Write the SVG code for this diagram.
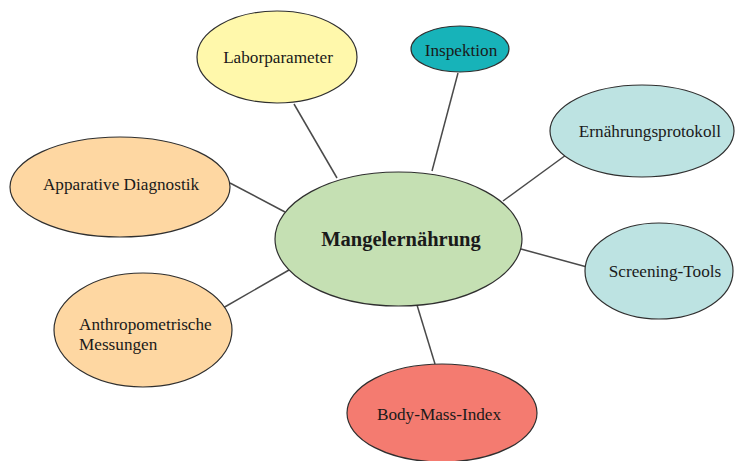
<svg xmlns="http://www.w3.org/2000/svg" width="736" height="461" viewBox="0 0 736 461">
<style>
.n{stroke:#2f2f2f;stroke-width:1.2}
.t{font-family:"Liberation Serif","Times New Roman",serif;font-size:17.2px;fill:#1a1a1a;text-anchor:middle}
.c line{stroke:#4a4a4a;stroke-width:1.5}
</style>
<rect width="736" height="461" fill="#ffffff"/>
<g class="c" id="connectors">
<line x1="294" y1="104" x2="337" y2="178"/>
<line x1="458" y1="73" x2="432" y2="171"/>
<line x1="566" y1="155" x2="503" y2="201"/>
<line x1="521" y1="249" x2="587" y2="267"/>
<line x1="230" y1="183" x2="285" y2="212"/>
<line x1="223" y1="308" x2="289" y2="270"/>
<line x1="417" y1="305" x2="435" y2="364"/>
</g>
<g id="n-laborparameter"><ellipse class="n" cx="277" cy="57" rx="80" ry="46" fill="#fff8ab"/><text class="t" x="278" y="63">Laborparameter</text></g>
<g id="n-inspektion"><ellipse class="n" cx="460" cy="49" rx="49" ry="23" fill="#17b3b9"/><text class="t" x="461" y="56">Inspektion</text></g>
<g id="n-ernaehrungsprotokoll"><ellipse class="n" cx="642" cy="131" rx="92" ry="46" fill="#bde3e2"/><text class="t" x="650" y="137">Ernährungsprotokoll</text></g>
<g id="n-apparative"><ellipse class="n" cx="120" cy="187" rx="110" ry="50" fill="#fed7a2"/><text class="t" x="121" y="190">Apparative Diagnostik</text></g>
<g id="n-screening"><ellipse class="n" cx="659" cy="271" rx="74" ry="48" fill="#bde3e2"/><text class="t" x="665" y="277">Screening-Tools</text></g>
<g id="n-anthropometrische"><ellipse class="n" cx="143" cy="330" rx="89" ry="57" fill="#fed7a2"/><text class="t" style="text-anchor:start" x="79" y="330">Anthropometrische</text><text class="t" style="text-anchor:start" x="79" y="350">Messungen</text></g>
<g id="n-bmi"><ellipse class="n" cx="442" cy="413" rx="95" ry="49" fill="#f47b70"/><text class="t" x="439" y="420">Body-Mass-Index</text></g>
<g id="n-mangelernaehrung"><ellipse class="n" cx="398.5" cy="239" rx="123.5" ry="67" fill="#c5e0b3"/><text class="t" style="font-weight:bold;font-size:20.5px" x="401" y="246">Mangelernährung</text></g>
</svg>
